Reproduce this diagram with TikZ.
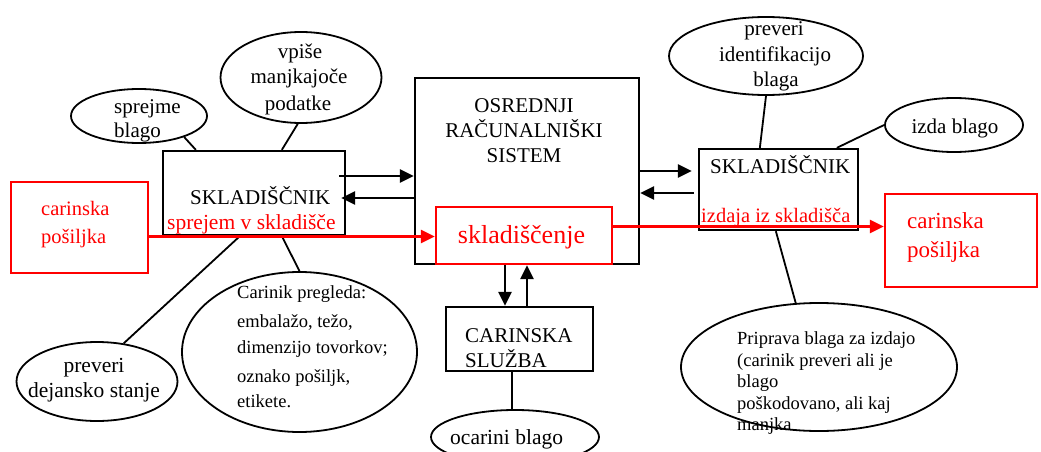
\documentclass[tikz,border=0pt]{standalone}
\usepackage{fontspec}
\setmainfont{Liberation Serif}
\usetikzlibrary{arrows.meta,shapes.geometric,calc}
\begin{document}
\begin{tikzpicture}[x=1pt,y=-1pt,
  box/.style={draw,line width=2.3pt,rectangle,inner sep=0pt},
  rbox/.style={draw=red,line width=2.3pt,rectangle,inner sep=0pt},
  ell/.style={draw,line width=1.8pt,ellipse,inner sep=0pt},
  con/.style={line width=1.8pt},
  arr/.style={line width=2.6pt,-{Triangle[length=14pt,width=13pt]}},
  rarr/.style={draw=red,line width=2.3pt,-{Triangle[length=14pt,width=13pt]}},
  tl/.style={inner sep=0pt,anchor=base west},
  tc/.style={inner sep=0pt,anchor=base},
  big/.style={font=\fontsize{21}{25}\selectfont},
  small/.style={font=\fontsize{18.5}{22}\selectfont},
  redt/.style={text=red}
]
\useasboundingbox (0,0) rectangle (1041,452);
\clip (0,0) rectangle (1041,452);

% boxes
\node[box,minimum width=182pt,minimum height=84pt] (lb) at (254,193) {};
\node[box,minimum width=224pt,minimum height=186pt] (cb) at (527,171) {};
\node[rbox,minimum width=176pt,minimum height=57pt] (sk) at (524,235.5) {};
\node[box,minimum width=159pt,minimum height=81pt] (rb) at (778.5,189.5) {};
\node[rbox,minimum width=137pt,minimum height=91pt] (lr) at (79.5,227.5) {};
\node[rbox,minimum width=152pt,minimum height=93pt] (rr) at (961,240.5) {};
\node[box,minimum width=147pt,minimum height=64pt] (cs) at (519.5,339) {};

% ellipses
\node[ell,minimum width=136pt,minimum height=54pt] (sb) at (139,116) {};
\node[ell,minimum width=161pt,minimum height=91pt] (vp) at (301,77.5) {};
\node[ell,minimum width=194pt,minimum height=78pt] (pi) at (766,56) {};
\node[ell,minimum width=138pt,minimum height=54pt] (ib) at (954,125) {};
\node[ell,minimum width=161pt,minimum height=79pt] (pd) at (97,381.5) {};
\node[ell,minimum width=235pt,minimum height=160pt] (ck) at (299.5,352) {};
\node[ell,minimum width=168pt,minimum height=54pt] (ob) at (515,437) {};
\node[ell,minimum width=276pt,minimum height=128pt] (pp) at (819,367) {};

% texts
\node[tl,big] (tlb1) at (190,204) {SKLADIŠČNIK};
\node[tl,redt,font=\fontsize{21.5}{25}\selectfont] (tlb2) at (167,229) {sprejem v skladišče};
\node[tl,redt,font=\fontsize{20.5}{25}\selectfont] (tlr1) at (41,215) {carinska};
\node[tl,redt,font=\fontsize{20.5}{25}\selectfont] (tlr2) at (41,243) {pošiljka};
\node[tc,big] (tcb1) at (524,112) {OSREDNJI};
\node[tc,big] (tcb2) at (524,137) {RAČUNALNIŠKI};
\node[tc,big] (tcb3) at (524,162) {SISTEM};
\node[tc,redt,font=\fontsize{26}{30}\selectfont] (tsk) at (521.5,243) {skladiščenje};
\node[tl,big] (trb1) at (710,173) {SKLADIŠČNIK};
\node[tl,redt,font=\fontsize{20.5}{25}\selectfont] (trb2) at (701,222) {izdaja iz skladišča};
\node[tl,redt,font=\fontsize{23}{27}\selectfont] (trr1) at (907,228) {carinska};
\node[tl,redt,font=\fontsize{23}{27}\selectfont] (trr2) at (907,257) {pošiljka};
\node[tl,big] (tcs1) at (465,342) {CARINSKA};
\node[tl,big] (tcs2) at (465,367) {SLUŽBA};
\node[tl,font=\fontsize{21.5}{25}\selectfont] (tob) at (450,444) {ocarini blago};
\node[tl,big] (tsb1) at (114,113) {sprejme};
\node[tl,big] (tsb2) at (114,137) {blago};
\node[tc,big] (tvp1) at (300,59) {vpiše};
\node[tc,big] (tvp2) at (299,83) {manjkajoče};
\node[tc,big] (tvp3) at (298,110) {podatke};
\node[tc,big] (tpi1) at (774,36) {preveri};
\node[tc,big] (tpi2) at (775,62) {identifikacijo};
\node[tc,big] (tpi3) at (776,86) {blaga};
\node[tc,big] (tib) at (955,133) {izda blago};
\node[tc,font=\fontsize{21.5}{25}\selectfont] (tpd1) at (94,372) {preveri};
\node[tc,font=\fontsize{21.5}{25}\selectfont] (tpd2) at (94,397) {dejansko stanje};
\node[tl,small] (tck1) at (237,298) {Carinik pregleda:};
\node[tl,small] (tck2) at (237,327) {embalažo, težo,};
\node[tl,small] (tck3) at (237,353) {dimenzijo tovorkov;};
\node[tl,small] (tck4) at (237,382) {oznako pošiljk,};
\node[tl,small] (tck5) at (237,407) {etikete.};
\node[tl,small] (tpp1) at (737,344) {Priprava blaga za izdajo};
\node[tl,small] (tpp2) at (737,366) {(carinik preveri ali je};
\node[tl,small] (tpp3) at (737,387) {blago};
\node[tl,small] (tpp4) at (737,409) {poškodovano, ali kaj};
\node[tl,small] (tpp5) at (737,430) {manjka};

% plain connectors
\draw[con] (sb.-25) -- ([xshift=34pt]lb.north west);
\draw[con] (vp.-94) -- ([xshift=120pt]lb.north west);
\draw[con] ([xshift=78pt]lb.south west) -- (pd.55);
\draw[con] ([xshift=120pt]lb.south west) -- (ck.north);
\draw[con] (pi.south) -- ([xshift=62pt]rb.north west);
\draw[con] (ib.west) -- ([xshift=139pt]rb.north west);
\draw[con] ([xshift=78pt]rb.south west) -- (pp.110);
\draw[con] ([xshift=-3pt]ob.north |- cs.south) -- ([xshift=-3pt]ob.north);

% black arrows
\draw[arr] ([xshift=-7pt,yshift=17pt]lb.east) -- ([yshift=17pt]lb.east -| cb.west);
\draw[arr] ([yshift=-5pt]lb.east -| cb.west) -- ([xshift=-5pt,yshift=-5pt]lb.east);
\draw[arr,shorten >=6pt] (cb.east) -- (cb.east -| rb.west);
\draw[arr,shorten <=4pt] ([yshift=-22pt]cb.east -| rb.west) -- ([yshift=-22pt]cb.east);
\draw[arr] ([xshift=-14.5pt]cs.north |- cb.south) -- ([xshift=-14.5pt]cs.north);
\draw[arr] ([xshift=7.5pt]cs.north) -- ([xshift=7.5pt]cs.north |- cb.south);

% red arrows
\draw[rarr] ([yshift=-1pt]sk.west -| lr.east) -- ([yshift=-1pt]sk.west);
\draw[rarr] ([yshift=9pt]sk.east) -- ([yshift=9pt]sk.east -| rr.west);
\end{tikzpicture}
\end{document}
